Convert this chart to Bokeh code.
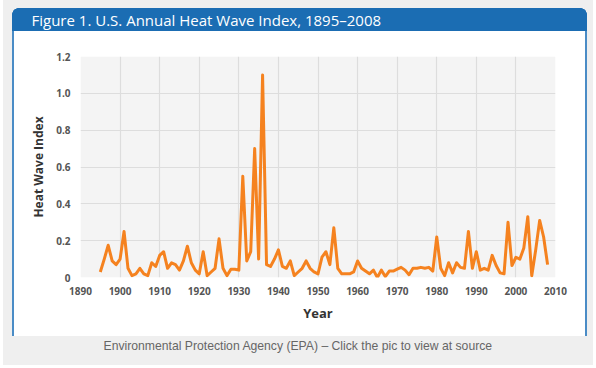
from bokeh.plotting import figure
from bokeh.models import Range1d, FixedTicker, BoxAnnotation, Title
from bokeh.embed import file_html
from bokeh.resources import INLINE

# ---- data ----
years = list(range(1895, 2009))
heat_index = [
    0.03, 0.10, 0.175, 0.09, 0.07, 0.10, 0.25, 0.05, 0.01, 0.02,   # 1895-1904
    0.05, 0.02, 0.01, 0.08, 0.06, 0.12, 0.14, 0.05, 0.08, 0.07,    # 1905-1914
    0.04, 0.09, 0.17, 0.08, 0.04, 0.02, 0.14, 0.01, 0.03, 0.05,    # 1915-1924
    0.21, 0.05, 0.01, 0.045, 0.045, 0.04, 0.55, 0.09, 0.14, 0.70,  # 1925-1934
    0.10, 1.10, 0.07, 0.06, 0.10, 0.15, 0.06, 0.05, 0.09, 0.01,    # 1935-1944
    0.03, 0.05, 0.09, 0.05, 0.03, 0.02, 0.11, 0.14, 0.07, 0.27,    # 1945-1954
    0.05, 0.02, 0.02, 0.02, 0.03, 0.09, 0.05, 0.035, 0.02, 0.04,   # 1955-1964
    0.00, 0.04, 0.005, 0.035, 0.035, 0.045, 0.055, 0.04, 0.015, 0.05,  # 1965-1974
    0.05, 0.055, 0.05, 0.055, 0.035, 0.22, 0.05, 0.01, 0.08, 0.025,    # 1975-1984
    0.08, 0.055, 0.05, 0.25, 0.05, 0.14, 0.04, 0.05, 0.04, 0.12,   # 1985-1994
    0.065, 0.025, 0.02, 0.30, 0.065, 0.11, 0.10, 0.16, 0.33, 0.01, # 1995-2004
    0.15, 0.31, 0.22, 0.07,                                        # 2005-2008
]
x_ticks = list(range(1890, 2011, 10))
y_ticks = [0, 0.2, 0.4, 0.6, 0.8, 1.0, 1.2]
y_tick_labels = {0: "0", 0.2: "0.2", 0.4: "0.4", 0.6: "0.6", 0.8: "0.8", 1.0: "1.0", 1.2: "1.2"}

title_text = "Figure 1. U.S. Annual Heat Wave Index, 1895\u20132008"
caption_text = "Environmental Protection Agency (EPA) \u2013 Click the pic to view at source"

W, H = 596, 368
FL, FT, FR, FB = 80, 56, 555, 277   # frame edges on the canvas

p = figure(width=W, height=H, output_backend="svg", toolbar_location=None,
           x_range=Range1d(1890, 2010), y_range=Range1d(0, 1.2),
           min_border_left=FL, min_border_right=W - FR,
           min_border_top=FT, min_border_bottom=H - FB)
p.border_fill_color = None
p.background_fill_color = None
p.outline_line_color = None

# page decoration drawn behind the (transparent) canvas with CSS layers
bg = ", ".join([
    "radial-gradient(circle at 6px 6px, #1b6db3 5.5px, transparent 6px) 12px 8px / 12px 12px no-repeat",
    "radial-gradient(circle at 0px 6px, #1b6db3 5.5px, transparent 6px) 581px 8px / 6px 12px no-repeat",
    "linear-gradient(#1b6db3, #1b6db3) 18px 8px / 563px 6px no-repeat",
    "linear-gradient(#1b6db3, #1b6db3) 12px 14px / 575px 17px no-repeat",
    "linear-gradient(#4a8cc6, #4a8cc6) 12px 30px / 2px 306px no-repeat",
    "linear-gradient(#4a8cc6, #4a8cc6) 585px 30px / 2px 306px no-repeat",
    "linear-gradient(#ffffff, #ffffff) 12px 31px / 575px 305px no-repeat",
    "linear-gradient(#efefef, #efefef) 3px 0px / 590px 365px no-repeat",
    "#ffffff",
])
p.styles = {"background": bg}

# plot area background (fills frame)
p.add_layout(BoxAnnotation(fill_color="#f4f4f4", fill_alpha=1, line_color=None, level="image"))

# spacer (closest to frame) then the header title above it
p.add_layout(Title(text=" ", text_font_size="1px", standoff=24), "above")
p.add_layout(Title(text=title_text, align="left", offset=-49, text_color="white",
                   text_font="Open Sans", text_font_size="15px", text_font_style="normal",
                   standoff=0), "above")

cap = Title(text=caption_text, align="left", offset=23, text_color="#666666",
            text_font="Liberation Sans", text_font_size="12.2px", text_font_style="normal",
            standoff=24)
p.add_layout(cap, "below")

p.line(years, heat_index, line_color="#f5821f", line_width=3, line_join="round")

p.xaxis.ticker = FixedTicker(ticks=x_ticks)
p.yaxis.ticker = FixedTicker(ticks=y_ticks)
p.yaxis.major_label_overrides = y_tick_labels
for ax in (p.xaxis[0], p.yaxis[0]):
    ax.axis_line_color = None
    ax.major_tick_line_color = None
    ax.minor_tick_line_color = None
    ax.major_label_text_font = "Open Sans"
    ax.major_label_text_font_style = "bold"
    ax.major_label_text_font_size = "10px"
    ax.major_label_text_color = "#555555"
    ax.axis_label_text_font = "Open Sans"
    ax.axis_label_text_font_style = "bold"
    ax.axis_label_text_color = "#333333"
p.xaxis.axis_label = "Year"
p.xaxis.axis_label_text_font_size = "13px"
p.xaxis.major_label_standoff = 3
p.xaxis.axis_label_standoff = 6
p.yaxis.axis_label = "Heat Wave Index"
p.yaxis.axis_label_text_font_size = "12px"
p.yaxis.major_label_standoff = 4
p.yaxis.axis_label_standoff = 6

p.grid.grid_line_color = "#dddddd"
p.grid.grid_line_width = 1.2

html = file_html(p, INLINE)
open("out.html", "w").write(html)
